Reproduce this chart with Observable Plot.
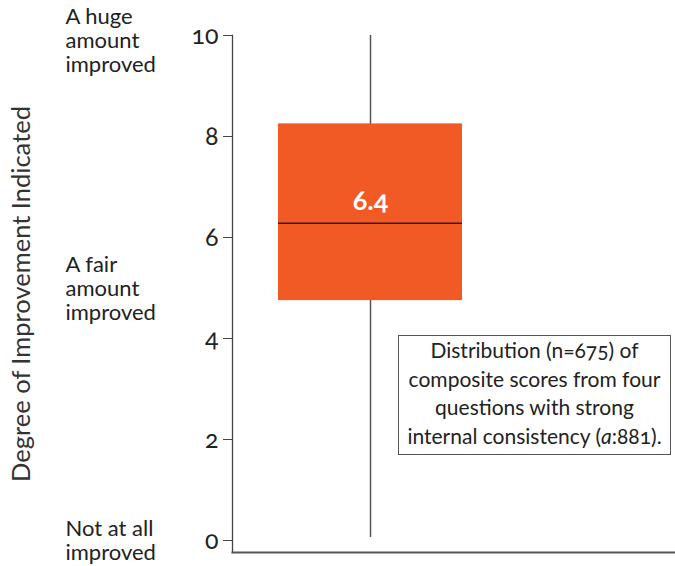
<!DOCTYPE html>
<html>
<head>
<meta charset="utf-8">
<script src="https://cdn.jsdelivr.net/npm/d3@7"></script>
<script src="https://cdn.jsdelivr.net/npm/@observablehq/plot@0.6"></script>
<style>
  body { margin: 0; background: #fff; }
  #wrap { position: relative; width: 675px; height: 566px; font-family: Lato, "Open Sans", sans-serif; }
  #note { position: absolute; left: 398px; top: 335px; width: 273px; height: 120px; border: 1px solid #555;
          box-sizing: border-box; text-align: center; font-size: 21px; line-height: 28.5px; color: #222;
          padding-top: 0px; font-variant-numeric: oldstyle-nums; background: #fff; white-space: nowrap; }
  svg text { font-variant-numeric: oldstyle-nums; }
</style>
</head>
<body>
<div id="wrap"></div>
<script>
// ---- data ----
const categories = ["All respondents"];
const whiskerLow = [0.06];
const q1 = [4.75];
const median = [6.28];
const q3 = [8.25];
const whiskerHigh = [10];
const medianLabels = ["6.4"];
const yTicks = [0, 2, 4, 6, 8, 10];
const levelValues = [9.9, 5, 0];
const levelLabels = ["A huge\namount\nimproved", "A fair\namount\nimproved", "Not at all\nimproved"];
const axisTitle = "Degree of Improvement Indicated";
const noteLines = ["Distribution (n=675) of", "composite scores from four", "questions with strong", "internal consistency (<i>a</i>:881)."];

const boxes = categories.map((c, i) => ({
  cat: c, lo: whiskerLow[i], q1: q1[i], med: median[i], q3: q3[i], hi: whiskerHigh[i], label: medianLabels[i]
}));
const levels = levelValues.map((v, i) => ({ v, t: levelLabels[i] }));

const ML = 232;
const chart = Plot.plot({
  width: 675,
  height: 566,
  marginLeft: ML,
  marginRight: 0,
  marginTop: 35,
  marginBottom: 14,
  style: { fontFamily: "Lato, 'Open Sans', sans-serif", color: "#222", background: "#fff" },
  x: { type: "band", domain: categories, range: [278, 462], padding: 0, axis: null },
  y: { domain: [0, 10], range: [540, 35], axis: null },
  marks: [
    Plot.ruleX(boxes, { x: "cat", y1: "lo", y2: "hi", stroke: "#555", strokeWidth: 1.5 }),
    Plot.barY(boxes, { x: "cat", y1: "q1", y2: "q3", fill: "#F15A24" }),
    Plot.tickY(boxes, { x: "cat", y: "med", stroke: "#3b1608", strokeWidth: 1.5 }),
    Plot.text(boxes, { x: "cat", y: "med", text: "label", fill: "#fff", fontWeight: "bold", fontSize: 27, dy: -22 }),
    Plot.axisY(yTicks, { anchor: "left", tickSize: 9, tickPadding: 5, fontSize: 25, stroke: "#444", fill: "#222", label: null, tickFormat: d => String(d) }),
    Plot.frame({ anchor: "left", stroke: "#444", strokeWidth: 1.3 }),
    Plot.frame({ anchor: "bottom", stroke: "#555", strokeWidth: 2 }),
    Plot.text(levels, { y: "v", text: "t", frameAnchor: "left", textAnchor: "start", dx: 65 - ML, fontSize: 22, lineHeight: 1.1, fill: "#222" }),
    Plot.text([axisTitle], { text: d => d, frameAnchor: "left", textAnchor: "middle", rotate: -90, dx: 21 - ML, fontSize: 25.5, fill: "#333" })
  ]
});

const wrap = document.getElementById("wrap");
wrap.appendChild(chart);
const note = document.createElement("div");
note.id = "note";
note.innerHTML = noteLines.join("<br>");
wrap.appendChild(note);
</script>
</body>
</html>
